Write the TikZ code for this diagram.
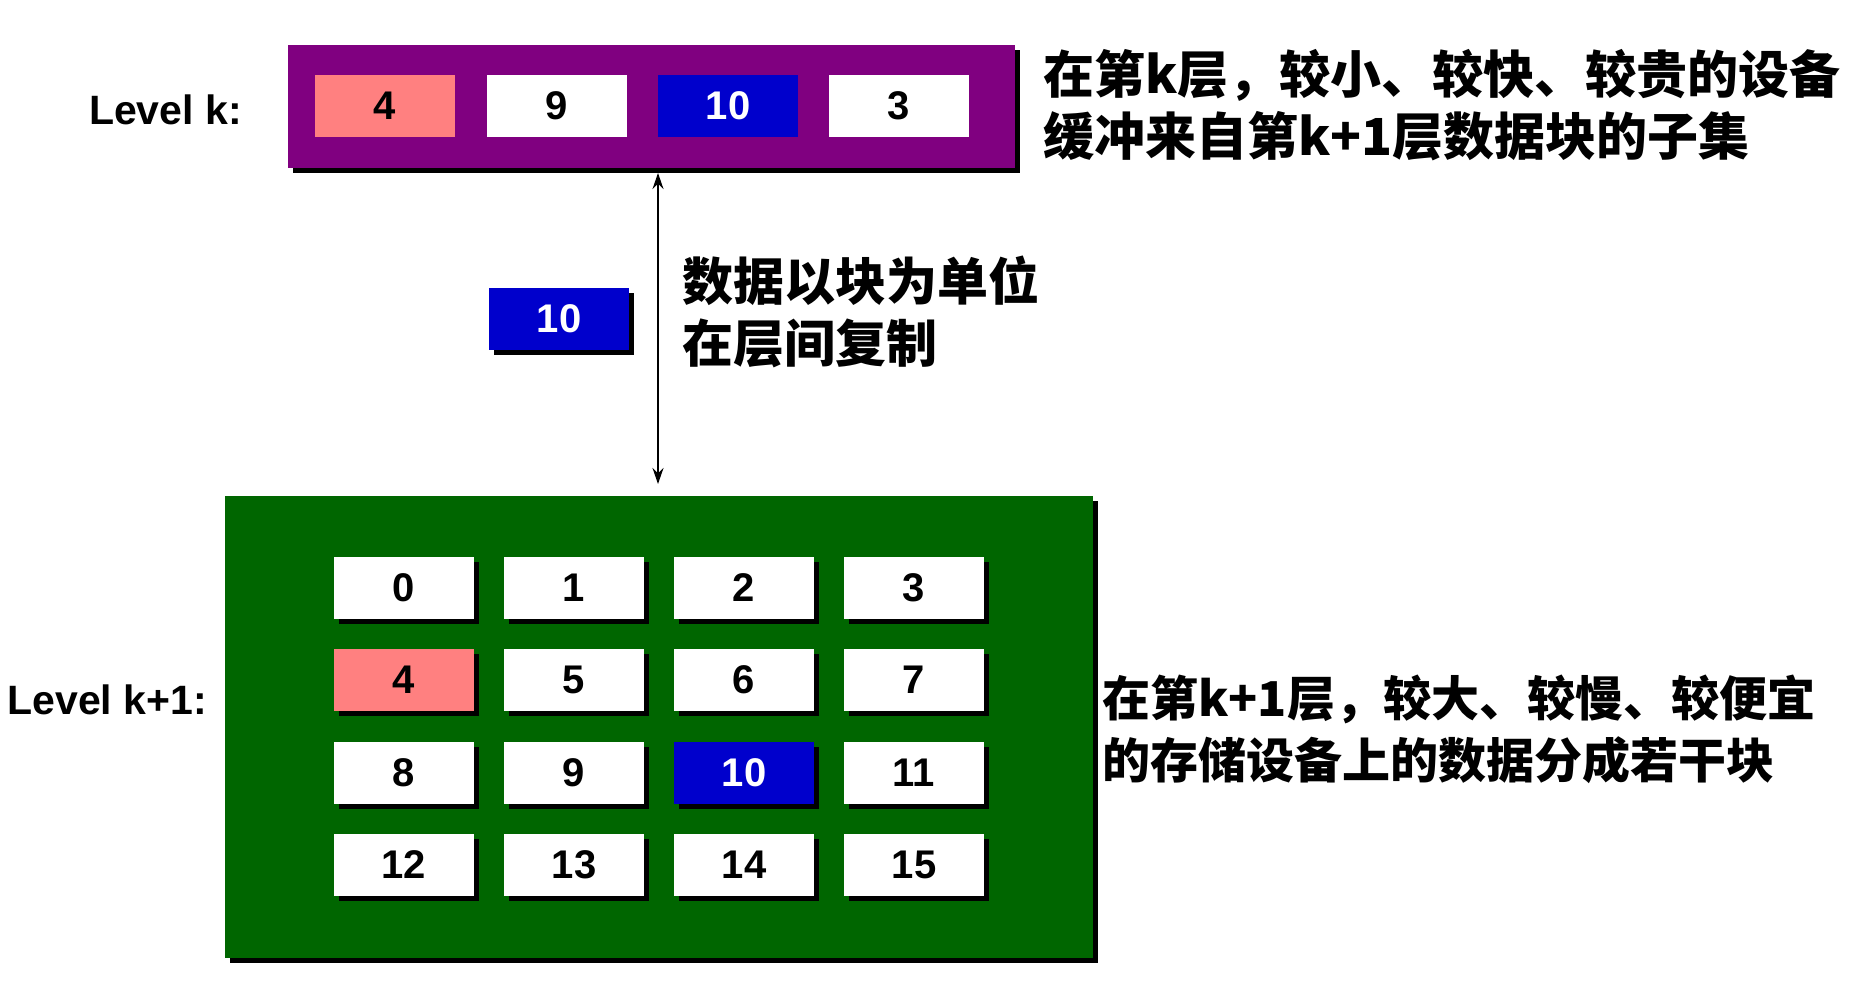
\documentclass[tikz,border=0pt]{standalone}
\usepackage{fontspec}
\setmainfont{Liberation Sans}
\newfontfamily\cjk{Noto Sans CJK SC}
\usepackage{tikz}
\usetikzlibrary{arrows.meta,shadows}

\definecolor{lvlpurple}{RGB}{128,0,128}
\definecolor{lvlgreen}{RGB}{0,102,0}
\definecolor{blkblue}{RGB}{0,0,204}
\definecolor{blkpink}{RGB}{255,128,128}

\tikzset{
  blk/.style={rectangle,fill=white,minimum width=140pt,minimum height=62pt,inner sep=0pt,
              font=\fontsize{40}{48}\selectfont\bfseries},
  shd/.style={drop shadow={shadow xshift=5pt,shadow yshift=-5pt,fill=black,opacity=1}},
  lbl/.style={anchor=east,inner sep=0pt,font=\fontsize{41}{48}\selectfont\bfseries},
  note/.style={anchor=west,align=left,inner sep=0pt,font=\cjk\bfseries\fontsize{51}{62}\selectfont}
}

\begin{document}
\begin{tikzpicture}[x=1pt,y=-1pt]
\useasboundingbox (0,0) rectangle (1852,986);

% level k
\node[fill=lvlpurple,shd,minimum width=727pt,minimum height=123pt] (levk) at (651,106) {};
\node[lbl] (labk) at (242,110) {Level k:};
\begin{scope}[every node/.style={blk}]
    \node[fill=blkpink] (k4) at (385,106) {4};
    \node (k9) at (557,106) {9};
    \node[fill=blkblue,text=white] (k10) at (728,106) {10};
    \node (k3) at (899,106) {3};
\end{scope}
\node[note] (topnote) at (1043,105) {在第k层，较小、较快、较贵的设备\\缓冲来自第k+1层数据块的子集};

% block in transit
\node[blk,shd,fill=blkblue,text=white] (mv10) at (559,319) {10};
\node[note] (copynote) at (682,312) {数据以块为单位\\在层间复制};
\coordinate (up) at (658,173);
\coordinate (down) at (658,484);
\draw[<->,>={Stealth[length=16pt,width=11pt]},line width=1.5pt] (up) -- (down);

% level k+1
\node[fill=lvlgreen,shd,minimum width=868pt,minimum height=462pt] (levk1) at (659,727) {};
\node[lbl] (labk1) at (207,700) {Level k+1:};
\begin{scope}[every node/.style={blk,shd}]
    \node (b0) at (404,588) {0};
    \node (b1) at (574,588) {1};
    \node (b2) at (744,588) {2};
    \node (b3) at (914,588) {3};
    \node[fill=blkpink] (b4) at (404,680) {4};
    \node (b5) at (574,680) {5};
    \node (b6) at (744,680) {6};
    \node (b7) at (914,680) {7};
    \node (b8) at (404,773) {8};
    \node (b9) at (574,773) {9};
    \node[fill=blkblue,text=white] (b10) at (744,773) {10};
    \node (b11) at (914,773) {11};
    \node (b12) at (404,865) {12};
    \node (b13) at (574,865) {13};
    \node (b14) at (744,865) {14};
    \node (b15) at (914,865) {15};
\end{scope}
\node[note,font=\cjk\bfseries\fontsize{48}{62}\selectfont] (botnote) at (1102,729) {在第k+1层，较大、较慢、较便宜\\的存储设备上的数据分成若干块};
\end{tikzpicture}
\end{document}
